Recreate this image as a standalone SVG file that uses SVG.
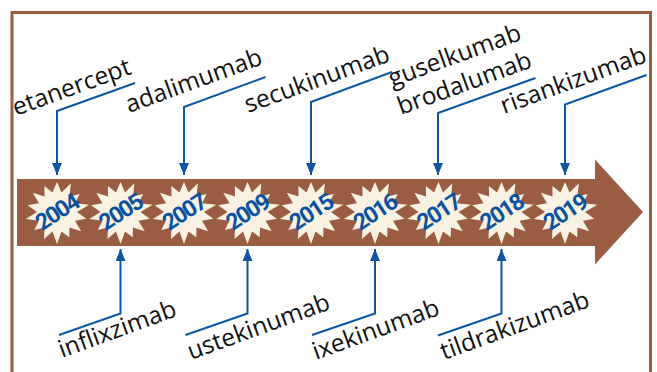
<svg xmlns="http://www.w3.org/2000/svg" xmlns:xlink="http://www.w3.org/1999/xlink" width="657" height="372" viewBox="0 0 657 372">
<style>
.frame{fill:none;stroke:#9a5d44;stroke-width:3}
.band{fill:#9a5d44}
.star{fill:#f9f1e2}
.yr{font-family:Roboto,"Liberation Sans",sans-serif;font-weight:bold;font-size:23px;letter-spacing:-1.6px;fill:#0a52a0;text-anchor:middle}
.lbl{font-family:"Open Sans","Noto Sans",sans-serif;font-size:24.5px;fill:#111}
.con{fill:none;stroke:#0b57a4;stroke-width:2;marker-end:url(#ah)}
</style>
<defs>
<marker id="ah" viewBox="0 0 12 10" refX="12" refY="5" markerWidth="12" markerHeight="10" markerUnits="userSpaceOnUse" orient="auto">
<path d="M0,0 L12,5 L0,10 z" fill="#0b57a4"/>
</marker>
<path id="burst" class="star" d="M0,-30 L4.5,-19.5 L13.9,-28.8 L12.5,-15.6 L22.7,-18.1 L18,-8.7 L32.2,-7.3 L20,0 L29.3,6.7 L18,8.7 L24.2,19.3 L12.5,15.6 L12.2,25.2 L4.5,19.5 L0,32 L-4.5,19.5 L-13,27 L-12.5,15.6 L-22.7,18.1 L-18,8.7 L-31.2,7.1 L-20,0 L-29.3,-6.7 L-18,-8.7 L-24.2,-19.3 L-12.5,-15.6 L-12.6,-26.1 L-4.5,-19.5 Z"/>
</defs>
<rect class="frame" x="12" y="12.5" width="638.5" height="380"/>
<g id="timeline">
<path class="band" d="M17,179 L595,179 L595,159.5 L643,212 L595,264.5 L595,246 L17,246 Z"/>
</g>
<g id="y2004" transform="translate(57,212)"><use xlink:href="#burst"/><text class="yr" transform="rotate(-33)" y="8">2004</text></g>
<g id="y2005" transform="translate(120.5,212)"><use xlink:href="#burst"/><text class="yr" transform="rotate(-33)" y="8">2005</text></g>
<g id="y2007" transform="translate(184,212)"><use xlink:href="#burst"/><text class="yr" transform="rotate(-33)" y="8">2007</text></g>
<g id="y2009" transform="translate(247.5,212)"><use xlink:href="#burst"/><text class="yr" transform="rotate(-33)" y="8">2009</text></g>
<g id="y2015" transform="translate(311,212)"><use xlink:href="#burst"/><text class="yr" transform="rotate(-33)" y="8">2015</text></g>
<g id="y2016" transform="translate(375,212)"><use xlink:href="#burst"/><text class="yr" transform="rotate(-33)" y="8">2016</text></g>
<g id="y2017" transform="translate(438.5,212)"><use xlink:href="#burst"/><text class="yr" transform="rotate(-33)" y="8">2017</text></g>
<g id="y2018" transform="translate(501.5,212)"><use xlink:href="#burst"/><text class="yr" transform="rotate(-33)" y="8">2018</text></g>
<g id="y2019" transform="translate(565,212)"><use xlink:href="#burst"/><text class="yr" transform="rotate(-33)" y="8">2019</text></g>
<g id="connectors">
<path class="con" d="M135,83 L57,111 L57,175"/>
<path class="con" d="M265.5,77 L184,107 L184,175"/>
<path class="con" d="M392,72 L311,102 L311,175"/>
<path class="con" d="M535.5,78 L438,113 L438,175"/>
<path class="con" d="M646.5,75 L565,104.5 L565,175"/>
<path class="con" d="M59,335 L120.5,313.5 L120.5,249"/>
<path class="con" d="M185.5,335 L247.5,313.5 L247.5,249"/>
<path class="con" d="M312,335 L375,313.5 L375,249"/>
<path class="con" d="M438,335.5 L501.5,313.5 L501.5,249"/>
</g>
<g id="l-etanercept"><text class="lbl" transform="translate(16,116) rotate(-20)">etanercept</text></g>
<g id="l-adalimumab"><text class="lbl" transform="translate(129,113) rotate(-20)">adalimumab</text></g>
<g id="l-secukinumab"><text class="lbl" transform="translate(248,113) rotate(-20)">secukinumab</text></g>
<g id="l-guselkumab"><text class="lbl" transform="translate(392,87) rotate(-20)">guselkumab</text></g>
<g id="l-brodalumab"><text class="lbl" transform="translate(401,115) rotate(-20)">brodalumab</text></g>
<g id="l-risankizumab"><text class="lbl" transform="translate(504,114) rotate(-20)">risankizumab</text></g>
<g id="l-inflixzimab"><text class="lbl" transform="translate(62,358) rotate(-20)">inflixzimab</text></g>
<g id="l-ustekinumab"><text class="lbl" transform="translate(191,360) rotate(-20)">ustekinumab</text></g>
<g id="l-ixekinumab"><text class="lbl" transform="translate(316,360) rotate(-20)">ixekinumab</text></g>
<g id="l-tildrakizumab"><text class="lbl" transform="translate(444,360) rotate(-20)">tildrakizumab</text></g>
</svg>
